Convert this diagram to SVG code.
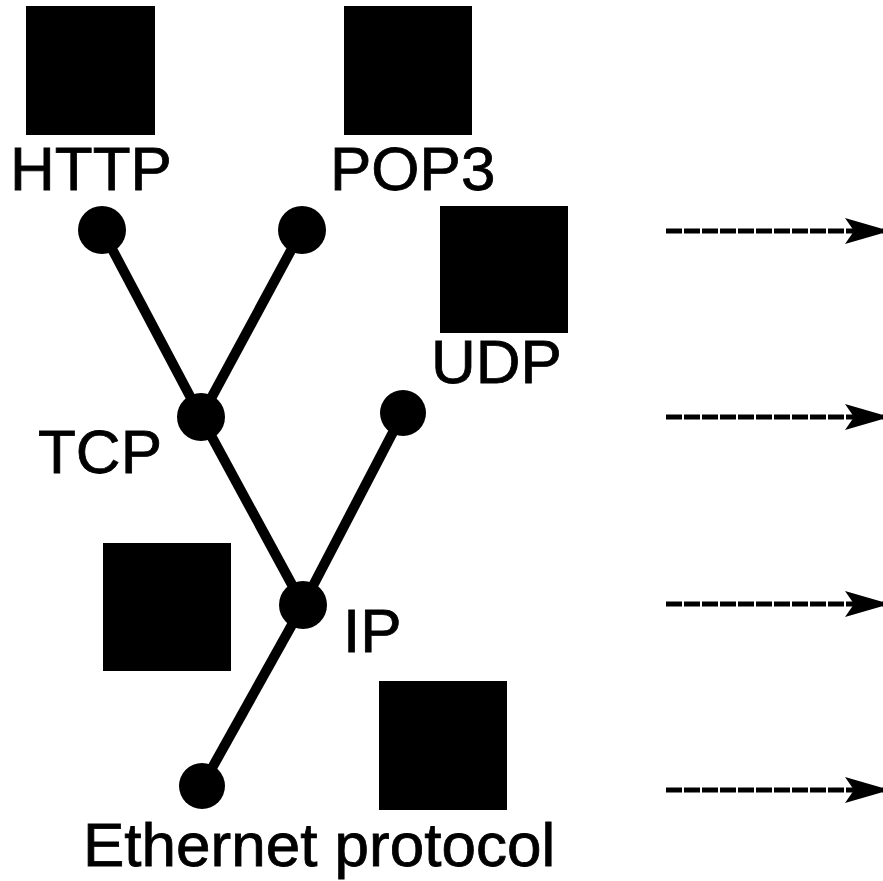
<svg xmlns="http://www.w3.org/2000/svg" width="883" height="881" viewBox="0 0 883 881">
<style>
.box{fill:#000}
.dot{fill:#000}
.lbl{font-family:"Liberation Sans",Arial,sans-serif;font-size:62px;fill:#000;stroke:#000;stroke-width:0.8}
.edge{stroke:#000;stroke-width:10;fill:none}
.arr{stroke:#000;stroke-width:5;stroke-dasharray:16,2;fill:none}
</style>
<defs>
<marker id="ah" markerUnits="userSpaceOnUse" markerWidth="42" markerHeight="30" refX="38" refY="13" orient="auto">
<polygon points="0,0 38,11 38,15 0,26 9,13" fill="#000"/>
</marker>
</defs>
<rect width="883" height="881" fill="#fff"/>
<g id="connectors">
<line class="edge" x1="102" y1="230" x2="201" y2="417"/>
<line class="edge" x1="302" y1="230" x2="201" y2="417"/>
<line class="edge" x1="201" y1="417" x2="303" y2="605"/>
<line class="edge" x1="403" y1="413" x2="303" y2="605"/>
<line class="edge" x1="303" y1="605" x2="202" y2="786"/>
<line class="arr" x1="666" y1="231" x2="883" y2="231" marker-end="url(#ah)"/>
<line class="arr" x1="666" y1="417" x2="883" y2="417" marker-end="url(#ah)"/>
<line class="arr" x1="666" y1="604" x2="883" y2="604" marker-end="url(#ah)"/>
<line class="arr" x1="666" y1="790" x2="883" y2="790" marker-end="url(#ah)"/>
</g>
<g id="http">
<rect class="box" x="26" y="6" width="129" height="129"/>
<text class="lbl" x="10" y="190">HTTP</text>
<circle class="dot" cx="102" cy="230" r="24"/>
</g>
<g id="pop3">
<rect class="box" x="344" y="6" width="128" height="129"/>
<text class="lbl" x="330" y="190">POP3</text>
<circle class="dot" cx="302" cy="230" r="24"/>
</g>
<g id="udp">
<rect class="box" x="440" y="206" width="128" height="127"/>
<text class="lbl" x="431" y="383">UDP</text>
<circle class="dot" cx="403" cy="413" r="23"/>
</g>
<g id="tcp">
<text class="lbl" x="38" y="473">TCP</text>
<circle class="dot" cx="201" cy="417" r="24"/>
</g>
<g id="ip">
<rect class="box" x="103" y="543" width="128" height="128"/>
<text class="lbl" x="343" y="652">IP</text>
<circle class="dot" cx="303" cy="605" r="24"/>
</g>
<g id="ethernet">
<rect class="box" x="379" y="681" width="128" height="129"/>
<text class="lbl" x="83" y="866">Ethernet protocol</text>
<circle class="dot" cx="202" cy="786" r="23"/>
</g>
</svg>
